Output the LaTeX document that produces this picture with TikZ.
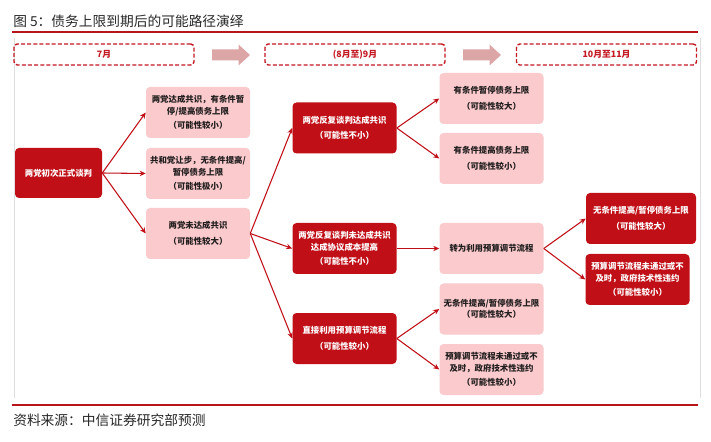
\documentclass[tikz,border=0pt]{standalone}
\usepackage{fontspec}
\setmainfont{Noto Sans CJK SC}
\usetikzlibrary{arrows.meta}
\definecolor{dred}{RGB}{192,15,23}
\definecolor{pinkc}{RGB}{250,202,205}
\definecolor{hred}{RGB}{196,24,34}
\definecolor{afill}{RGB}{221,166,166}
\definecolor{txt}{RGB}{34,30,30}
\definecolor{ttl}{RGB}{40,40,40}
\definecolor{rule}{RGB}{185,20,25}
\definecolor{frame}{RGB}{222,222,222}
\begin{document}
\begin{tikzpicture}[x=0.75pt,y=-0.75pt,
  box/.style={rounded corners=3pt, minimum width=78pt, minimum height=38.25pt, align=center, font=\fontsize{6.3}{8.6}\selectfont\bfseries, inner sep=1pt},
  pinkbox/.style={box, fill=pinkc, text=txt},
  redbox/.style={box, fill=dred, text=white},
  hdr/.style={draw=hred, dash pattern=on 3pt off 1.6pt, line width=1.1pt, rounded corners=2.5pt, minimum width=135pt, minimum height=15.75pt, font=\fontsize{6.6}{8}\selectfont\bfseries, text=hred},
  conn/.style={draw=dred, line width=0.8pt, -{Stealth[length=4.5pt,width=4pt]}},
  blockarrow/.style={fill=afill, draw=none},
]
\useasboundingbox (0,0) rectangle (711,442);
\fill[white] (0,0) rectangle (711,442);

% title and rules
\node[anchor=west, inner sep=0pt, text=ttl, font=\fontsize{10.3}{12}\selectfont] (title) at (13,21.5) {图 5：债务上限到期后的可能路径演绎};
\coordinate (t1) at (12,32);
\coordinate (t2) at (698,32);
\draw[rule, line width=0.9pt] (t1) -- (t2);
\coordinate (b1) at (12,405);
\coordinate (b2) at (698,405);
\draw[rule, line width=0.9pt] (b1) -- (b2);
\node[anchor=west, inner sep=0pt, text=ttl, font=\fontsize{10.3}{12}\selectfont] (source) at (13,420) {资料来源：中信证券研究部预测};

% light frame
\coordinate (fl1) at (14,38);
\coordinate (fl2) at (14,398);
\coordinate (fr1) at (700,38);
\coordinate (fr2) at (700,398);
\draw[frame, line width=0.6pt] (fl1) -- (fl2);
\draw[frame, line width=0.6pt] (fr1) -- (fr2);

% headers
\node[hdr] (h1) at (104,54.5) {7月};
\node[hdr] (h2) at (355,54.5) {(8月至)9月};
\node[hdr] (h3) at (606.5,54.5) {10月至11月};

% block arrows
\fill[blockarrow] (212,49.5) -- (238.5,49.5) -- (238.5,44.5) -- (250,55) -- (238.5,65.5) -- (238.5,60.5) -- (212,60.5) -- cycle;
\fill[blockarrow] (463,49.5) -- (489.5,49.5) -- (489.5,44.5) -- (501,55) -- (489.5,65.5) -- (489.5,60.5) -- (463,60.5) -- cycle;

% column 1
\node[redbox, minimum width=65.25pt, minimum height=37.5pt] (s) at (58.5,173) {两党初次正式谈判};

% column 2
\node[pinkbox] (n1) at (198,112.5) {两党达成共识，有条件暂\\停/提高债务上限\\[2.5pt]（可能性较小）};
\node[pinkbox] (n2) at (198,173.5) {共和党让步，无条件提高/\\暂停债务上限\\[2.5pt]（可能性极小）};
\node[pinkbox] (n3) at (198,233.5) {两党未达成共识\\[3pt]（可能性较大）};

% column 3
\node[redbox] (m1) at (344.5,128) {两党反复谈判达成共识\\[3pt]（可能性不小）};
\node[redbox] (m2) at (344.5,248.5) {两党反复谈判未达成共识\\达成协议成本提高\\[2.5pt]（可能性不小）};
\node[redbox] (m3) at (344.5,338.5) {直接利用预算调节流程\\[3pt]（可能性较小）};

% column 4
\node[pinkbox] (r1) at (491.5,98.5) {有条件暂停债务上限\\[3pt]（可能性较大）};
\node[pinkbox] (r2) at (491.5,158.5) {有条件提高债务上限\\[3pt]（可能性较小）};
\node[pinkbox] (r3) at (491.5,248.5) {转为利用预算调节流程};
\node[pinkbox] (r4) at (491.5,309) {无条件提高/暂停债务上限\\（可能性较大）};
\node[pinkbox] (r5) at (491.5,369.5) {预算调节流程未通过或不\\及时，政府技术性违约\\[2.5pt]（可能性较小）};

% column 5
\node[redbox, minimum width=82.5pt] (f1) at (641,218.5) {无条件提高/暂停债务上限\\[3pt]（可能性较大）};
\node[redbox] (f2) at (637.5,279.5) {预算调节流程未通过或不\\及时，政府技术性违约\\[2.5pt]（可能性较小）};

% connectors
\draw[conn] (s.east) -- (n1.west);
\draw[conn] (s.east) -- (n2.west);
\draw[conn] (s.east) -- (n3.west);
\draw[conn] (n3.east) -- (m1.west);
\draw[conn] (n3.east) -- (m2.west);
\draw[conn] (n3.east) -- (m3.west);
\draw[conn] (m1.east) -- (r1.west);
\draw[conn] (m1.east) -- (r2.west);
\draw[conn] (m2.east) -- (r3.west);
\draw[conn] (m3.east) -- (r4.west);
\draw[conn] (m3.east) -- (r5.west);
\draw[conn] (r3.east) -- (f1.west);
\draw[conn] (r3.east) -- (f2.west);
\end{tikzpicture}
\end{document}
